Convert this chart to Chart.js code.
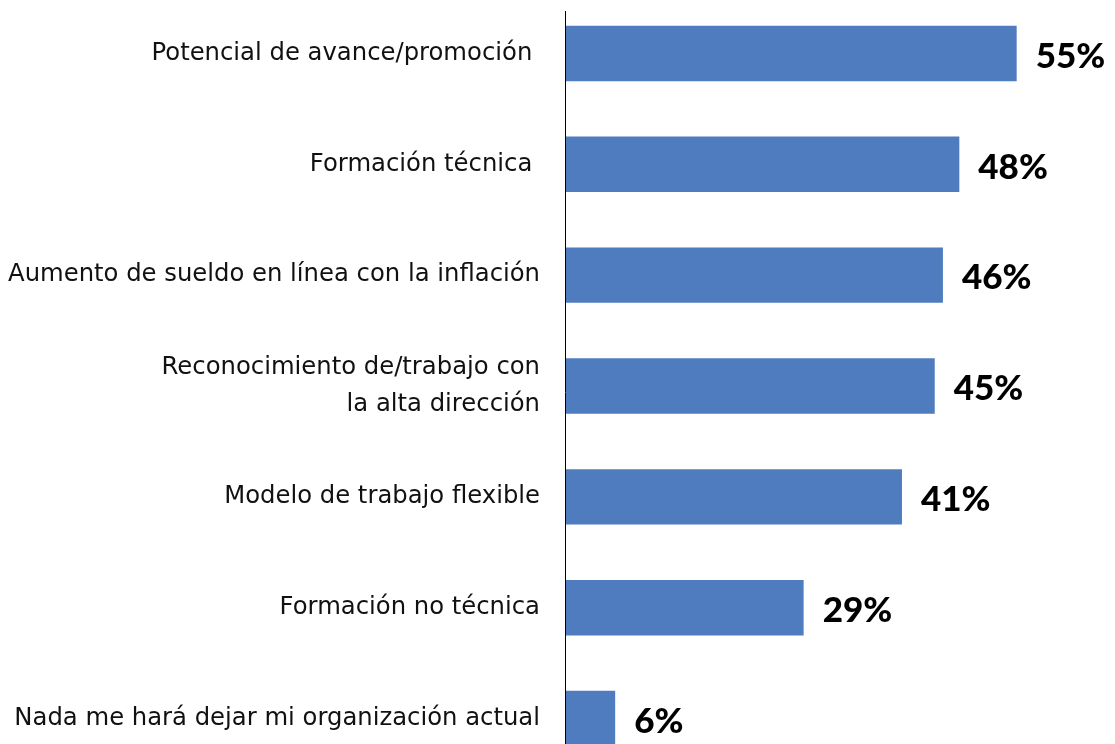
<!DOCTYPE html>
<html>
<head>
<meta charset="utf-8">
<script src="https://cdn.jsdelivr.net/npm/chart.js@4.4.0/dist/chart.umd.min.js"></script>
<style>
  html, body { margin: 0; padding: 0; background: #fff; overflow: hidden; }
  .chart-box { position: relative; width: 1115px; height: 776px; margin-top: -2px; }
</style>
</head>
<body>
<div class="chart-box"><canvas id="chart"></canvas></div>
<script>
const categories = [
  'Potencial de avance/promoción ',
  'Formación técnica ',
  'Aumento de sueldo en línea con la inflación',
  ['Reconocimiento de/trabajo con', 'la alta dirección'],
  'Modelo de trabajo flexible',
  'Formación no técnica',
  'Nada me hará dejar mi organización actual'
];
const values = [55, 48, 46, 45, 41, 29, 6];
const valueLabels = ['55%', '48%', '46%', '45%', '41%', '29%', '6%'];

// value labels right of each bar
const barLabels = {
  id: 'barLabels',
  afterDatasetsDraw(chart) {
    const ctx = chart.ctx;
    const meta = chart.getDatasetMeta(0);
    ctx.save();
    ctx.font = '900 35px Lato, sans-serif';
    ctx.fillStyle = '#000';
    ctx.textAlign = 'left';
    ctx.textBaseline = 'middle';
    meta.data.forEach((bar, i) => {
      ctx.fillText(valueLabels[i], bar.x + 19, bar.y + 3);
    });
    ctx.restore();
  }
};

// vertical axis line
const axisLine = {
  id: 'axisLine',
  afterDraw(chart) {
    const ctx = chart.ctx;
    const x = chart.chartArea.left - 0.5;
    ctx.save();
    ctx.strokeStyle = '#000';
    ctx.lineWidth = 1;
    ctx.beginPath();
    ctx.moveTo(x, 13);
    ctx.lineTo(x, chart.height);
    ctx.stroke();
    ctx.restore();
  }
};

new Chart(document.getElementById('chart').getContext('2d'), {
  type: 'bar',
  data: {
    labels: categories,
    datasets: [{
      data: values,
      backgroundColor: '#4f7bbf',
      barPercentage: 0.5,
      categoryPercentage: 1
    }]
  },
  options: {
    indexAxis: 'y',
    responsive: true,
    maintainAspectRatio: false,
    animation: false,
    layout: { padding: 0 },
    plugins: {
      legend: { display: false },
      tooltip: { enabled: false }
    },
    scales: {
      x: {
        display: false,
        min: 0,
        max: 67
      },
      y: {
        grid: { display: false, drawTicks: false },
        border: { display: false },
        afterFit(axis) {
          axis.width = 566;
          axis.paddingTop = 0;
          axis.paddingBottom = 0;
        },
        ticks: {
          padding: 26,
          color: '#111',
          font: { family: '"DejaVu Sans", sans-serif', size: 24.3, lineHeight: 1.5 }
        }
      }
    }
  },
  plugins: [barLabels, axisLine]
});
</script>
</body>
</html>
